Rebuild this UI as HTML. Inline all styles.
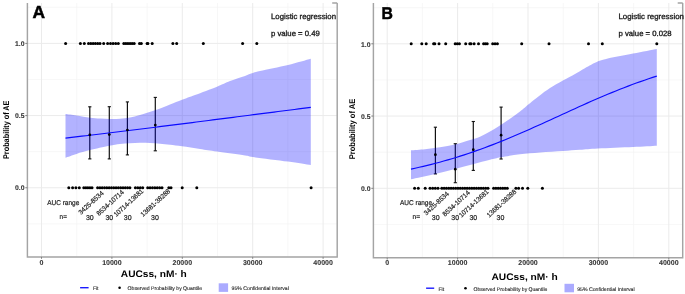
<!DOCTYPE html>
<html><head><meta charset="utf-8"><style>
html,body{margin:0;padding:0;background:#fff;width:685px;height:294px;overflow:hidden;}
svg{display:block;will-change:transform;text-rendering:geometricPrecision;font-family:"Liberation Sans", sans-serif;}
</style></head><body><svg width="685" height="294" viewBox="0 0 685 294" font-family='"Liberation Sans", sans-serif'><rect width="685" height="294" fill="#fff"/><line x1="76.7" y1="3" x2="76.7" y2="256.9" stroke="#f4f4f4" stroke-width="0.7"/><line x1="147.1" y1="3" x2="147.1" y2="256.9" stroke="#f4f4f4" stroke-width="0.7"/><line x1="217.5" y1="3" x2="217.5" y2="256.9" stroke="#f4f4f4" stroke-width="0.7"/><line x1="287.9" y1="3" x2="287.9" y2="256.9" stroke="#f4f4f4" stroke-width="0.7"/><line x1="27.4" y1="223.84" x2="337.2" y2="223.84" stroke="#f4f4f4" stroke-width="0.7"/><line x1="27.4" y1="151.66" x2="337.2" y2="151.66" stroke="#f4f4f4" stroke-width="0.7"/><line x1="27.4" y1="79.49" x2="337.2" y2="79.49" stroke="#f4f4f4" stroke-width="0.7"/><line x1="27.4" y1="7.31" x2="337.2" y2="7.31" stroke="#f4f4f4" stroke-width="0.7"/><line x1="41.5" y1="3" x2="41.5" y2="256.9" stroke="#ebebeb" stroke-width="1"/><line x1="111.9" y1="3" x2="111.9" y2="256.9" stroke="#ebebeb" stroke-width="1"/><line x1="182.3" y1="3" x2="182.3" y2="256.9" stroke="#ebebeb" stroke-width="1"/><line x1="252.7" y1="3" x2="252.7" y2="256.9" stroke="#ebebeb" stroke-width="1"/><line x1="323.1" y1="3" x2="323.1" y2="256.9" stroke="#ebebeb" stroke-width="1"/><line x1="27.4" y1="187.75" x2="337.2" y2="187.75" stroke="#ebebeb" stroke-width="1"/><line x1="27.4" y1="115.58" x2="337.2" y2="115.58" stroke="#ebebeb" stroke-width="1"/><line x1="27.4" y1="43.4" x2="337.2" y2="43.4" stroke="#ebebeb" stroke-width="1"/><path d="M27.4,3 L27.4,256.9 L337.2,256.9 L337.2,3 M332.2,3 L337.2,3" fill="none" stroke="#a4a4a4" stroke-width="1.45"/><line x1="41.5" y1="256.9" x2="41.5" y2="258.8" stroke="#808080" stroke-width="1"/><line x1="111.9" y1="256.9" x2="111.9" y2="258.8" stroke="#808080" stroke-width="1"/><line x1="182.3" y1="256.9" x2="182.3" y2="258.8" stroke="#808080" stroke-width="1"/><line x1="252.7" y1="256.9" x2="252.7" y2="258.8" stroke="#808080" stroke-width="1"/><line x1="323.1" y1="256.9" x2="323.1" y2="258.8" stroke="#808080" stroke-width="1"/><line x1="25.3" y1="187.75" x2="27.4" y2="187.75" stroke="#808080" stroke-width="1"/><line x1="25.3" y1="115.58" x2="27.4" y2="115.58" stroke="#808080" stroke-width="1"/><line x1="25.3" y1="43.4" x2="27.4" y2="43.4" stroke="#808080" stroke-width="1"/><text x="41.5" y="265.3" font-size="7" font-weight="bold" fill="#383838" text-anchor="middle" stroke="#383838" stroke-width="0.12">0</text><text x="111.9" y="265.3" font-size="7" font-weight="bold" fill="#383838" text-anchor="middle" stroke="#383838" stroke-width="0.12">10000</text><text x="182.3" y="265.3" font-size="7" font-weight="bold" fill="#383838" text-anchor="middle" stroke="#383838" stroke-width="0.12">20000</text><text x="252.7" y="265.3" font-size="7" font-weight="bold" fill="#383838" text-anchor="middle" stroke="#383838" stroke-width="0.12">30000</text><text x="323.1" y="265.3" font-size="7" font-weight="bold" fill="#383838" text-anchor="middle" stroke="#383838" stroke-width="0.12">40000</text><text x="24.5" y="190.35" font-size="6.8" font-weight="bold" fill="#383838" text-anchor="end" stroke="#383838" stroke-width="0.12">0.0</text><text x="24.5" y="118.17" font-size="6.8" font-weight="bold" fill="#383838" text-anchor="end" stroke="#383838" stroke-width="0.12">0.5</text><text x="24.5" y="46" font-size="6.8" font-weight="bold" fill="#383838" text-anchor="end" stroke="#383838" stroke-width="0.12">1.0</text><circle cx="65.6" cy="43.4" r="1.5" fill="#000"/><circle cx="80.4" cy="43.4" r="1.5" fill="#000"/><circle cx="84.3" cy="43.4" r="1.5" fill="#000"/><circle cx="88.5" cy="43.4" r="1.5" fill="#000"/><circle cx="90.8" cy="43.4" r="1.5" fill="#000"/><circle cx="93.1" cy="43.4" r="1.5" fill="#000"/><circle cx="95.4" cy="43.4" r="1.5" fill="#000"/><circle cx="97.7" cy="43.4" r="1.5" fill="#000"/><circle cx="100" cy="43.4" r="1.5" fill="#000"/><circle cx="103.7" cy="43.4" r="1.5" fill="#000"/><circle cx="107.6" cy="43.4" r="1.5" fill="#000"/><circle cx="110.5" cy="43.4" r="1.5" fill="#000"/><circle cx="113.1" cy="43.4" r="1.5" fill="#000"/><circle cx="115.7" cy="43.4" r="1.5" fill="#000"/><circle cx="118.3" cy="43.4" r="1.5" fill="#000"/><circle cx="123.8" cy="43.4" r="1.5" fill="#000"/><circle cx="125.88" cy="43.4" r="1.5" fill="#000"/><circle cx="127.96" cy="43.4" r="1.5" fill="#000"/><circle cx="130.04" cy="43.4" r="1.5" fill="#000"/><circle cx="132.12" cy="43.4" r="1.5" fill="#000"/><circle cx="134.2" cy="43.4" r="1.5" fill="#000"/><circle cx="139.5" cy="43.4" r="1.5" fill="#000"/><circle cx="141.3" cy="43.4" r="1.5" fill="#000"/><circle cx="147.1" cy="43.4" r="1.5" fill="#000"/><circle cx="147.9" cy="43.4" r="1.5" fill="#000"/><circle cx="152.2" cy="43.4" r="1.5" fill="#000"/><circle cx="172.9" cy="43.4" r="1.5" fill="#000"/><circle cx="176.7" cy="43.4" r="1.5" fill="#000"/><circle cx="203.3" cy="43.4" r="1.5" fill="#000"/><circle cx="242.6" cy="43.4" r="1.5" fill="#000"/><circle cx="256.8" cy="43.4" r="1.5" fill="#000"/><circle cx="68.8" cy="187.75" r="1.5" fill="#000"/><circle cx="72.6" cy="187.75" r="1.5" fill="#000"/><circle cx="75.9" cy="187.75" r="1.5" fill="#000"/><circle cx="79.3" cy="187.75" r="1.5" fill="#000"/><circle cx="83.8" cy="187.75" r="1.5" fill="#000"/><circle cx="85.85" cy="187.75" r="1.5" fill="#000"/><circle cx="87.9" cy="187.75" r="1.5" fill="#000"/><circle cx="89.95" cy="187.75" r="1.5" fill="#000"/><circle cx="92" cy="187.75" r="1.5" fill="#000"/><circle cx="97.6" cy="187.75" r="1.5" fill="#000"/><circle cx="99.91" cy="187.75" r="1.5" fill="#000"/><circle cx="102.21" cy="187.75" r="1.5" fill="#000"/><circle cx="104.52" cy="187.75" r="1.5" fill="#000"/><circle cx="106.83" cy="187.75" r="1.5" fill="#000"/><circle cx="109.14" cy="187.75" r="1.5" fill="#000"/><circle cx="111.44" cy="187.75" r="1.5" fill="#000"/><circle cx="113.75" cy="187.75" r="1.5" fill="#000"/><circle cx="116.06" cy="187.75" r="1.5" fill="#000"/><circle cx="118.36" cy="187.75" r="1.5" fill="#000"/><circle cx="120.67" cy="187.75" r="1.5" fill="#000"/><circle cx="122.98" cy="187.75" r="1.5" fill="#000"/><circle cx="125.29" cy="187.75" r="1.5" fill="#000"/><circle cx="127.59" cy="187.75" r="1.5" fill="#000"/><circle cx="129.9" cy="187.75" r="1.5" fill="#000"/><circle cx="135.4" cy="187.75" r="1.5" fill="#000"/><circle cx="137.83" cy="187.75" r="1.5" fill="#000"/><circle cx="140.27" cy="187.75" r="1.5" fill="#000"/><circle cx="142.7" cy="187.75" r="1.5" fill="#000"/><circle cx="147.7" cy="187.75" r="1.5" fill="#000"/><circle cx="150.08" cy="187.75" r="1.5" fill="#000"/><circle cx="152.47" cy="187.75" r="1.5" fill="#000"/><circle cx="154.85" cy="187.75" r="1.5" fill="#000"/><circle cx="157.23" cy="187.75" r="1.5" fill="#000"/><circle cx="159.62" cy="187.75" r="1.5" fill="#000"/><circle cx="162" cy="187.75" r="1.5" fill="#000"/><circle cx="168.8" cy="187.75" r="1.5" fill="#000"/><circle cx="171" cy="187.75" r="1.5" fill="#000"/><circle cx="182.2" cy="187.75" r="1.5" fill="#000"/><circle cx="196.8" cy="187.75" r="1.5" fill="#000"/><circle cx="311.1" cy="187.75" r="1.5" fill="#000"/><line x1="89.8" y1="106.8" x2="89.8" y2="158.9" stroke="#111" stroke-width="1.2"/><line x1="88.2" y1="106.8" x2="91.4" y2="106.8" stroke="#111" stroke-width="1.1"/><line x1="88.2" y1="158.9" x2="91.4" y2="158.9" stroke="#111" stroke-width="1.1"/><line x1="109.3" y1="106.7" x2="109.3" y2="158.9" stroke="#111" stroke-width="1.2"/><line x1="107.7" y1="106.7" x2="110.9" y2="106.7" stroke="#111" stroke-width="1.1"/><line x1="107.7" y1="158.9" x2="110.9" y2="158.9" stroke="#111" stroke-width="1.1"/><line x1="127.4" y1="101.9" x2="127.4" y2="154.9" stroke="#111" stroke-width="1.2"/><line x1="125.8" y1="101.9" x2="129" y2="101.9" stroke="#111" stroke-width="1.1"/><line x1="125.8" y1="154.9" x2="129" y2="154.9" stroke="#111" stroke-width="1.1"/><line x1="155.3" y1="97.4" x2="155.3" y2="150.8" stroke="#111" stroke-width="1.2"/><line x1="153.7" y1="97.4" x2="156.9" y2="97.4" stroke="#111" stroke-width="1.1"/><line x1="153.7" y1="150.8" x2="156.9" y2="150.8" stroke="#111" stroke-width="1.1"/><path d="M65.5,113.9 C67.33,114.15 72.42,114.77 76.5,115.4 C80.58,116.03 86.08,117.17 90,117.7 C93.92,118.23 96.67,118.4 100,118.6 C103.33,118.8 106.67,118.88 110,118.9 C113.33,118.92 116.67,118.95 120,118.7 C123.33,118.45 126.67,118.03 130,117.4 C133.33,116.77 135.83,116.08 140,114.9 C144.17,113.72 150,112.03 155,110.3 C160,108.57 165.5,106.25 170,104.5 C174.5,102.75 177.83,101.38 182,99.8 C186.17,98.22 189.17,97.18 195,95 C200.83,92.82 211.17,89.03 217,86.7 C222.83,84.37 225.33,82.8 230,81 C234.67,79.2 241.33,77.18 245,75.9 C248.67,74.62 249.5,74.1 252,73.3 C254.5,72.5 254,72.48 260,71.1 C266,69.72 279.53,67.05 288,65 C296.47,62.95 307,59.83 310.8,58.8 L310.8,165.1 C307,164.52 297.63,162.95 288,161.6 C278.37,160.25 260.17,158.02 253,157 C245.83,155.98 251,156.4 245,155.5 C239,154.6 224.5,152.68 217,151.6 C209.5,150.52 205.83,149.88 200,149 C194.17,148.12 187,147 182,146.3 C177,145.6 173.67,145.23 170,144.8 C166.33,144.37 163.33,144 160,143.7 C156.67,143.4 153.33,143.15 150,143 C146.67,142.85 143.33,142.77 140,142.8 C136.67,142.83 133.33,143.02 130,143.2 C126.67,143.38 123.5,143.48 120,143.9 C116.5,144.32 114,144.67 109,145.7 C104,146.73 95.42,148.73 90,150.1 C84.58,151.47 80.58,152.63 76.5,153.9 C72.42,155.17 67.33,157.07 65.5,157.7 Z" fill="#0000ff" fill-opacity="0.3"/><polyline points="65.5,138.1 69.59,137.62 73.68,137.14 77.77,136.66 81.85,136.18 85.94,135.7 90.03,135.21 94.12,134.72 98.21,134.23 102.3,133.74 106.38,133.25 110.47,132.75 114.56,132.26 118.65,131.76 122.74,131.26 126.83,130.76 130.91,130.25 135,129.75 139.09,129.24 143.18,128.74 147.27,128.23 151.36,127.72 155.44,127.21 159.53,126.69 163.62,126.18 167.71,125.66 171.8,125.15 175.88,124.63 179.97,124.11 184.06,123.6 188.15,123.08 192.24,122.56 196.33,122.03 200.42,121.51 204.5,120.99 208.59,120.47 212.68,119.94 216.77,119.42 220.86,118.9 224.95,118.37 229.03,117.85 233.12,117.32 237.21,116.79 241.3,116.27 245.39,115.74 249.47,115.22 253.56,114.69 257.65,114.17 261.74,113.64 265.83,113.12 269.92,112.59 274,112.07 278.09,111.54 282.18,111.02 286.27,110.49 290.36,109.97 294.45,109.45 298.53,108.93 302.62,108.41 306.71,107.89 310.8,107.37" fill="none" stroke="#0a0aff" stroke-width="1.15"/><circle cx="89.8" cy="134.8" r="1.35" fill="#000"/><circle cx="109.3" cy="134.6" r="1.35" fill="#000"/><circle cx="127.4" cy="130" r="1.35" fill="#000"/><circle cx="155.3" cy="125" r="1.35" fill="#000"/><text x="32.4" y="18.3" font-size="17.4" font-weight="bold" fill="#000" text-anchor="start" stroke="#000" stroke-width="0.5">A</text><text x="271" y="19" font-size="7.7" font-weight="normal" fill="#1a1a1a" text-anchor="start" textLength="65" lengthAdjust="spacingAndGlyphs" stroke="#1a1a1a" stroke-width="0.32">Logistic regression</text><text x="271" y="36.1" font-size="7.7" font-weight="normal" fill="#1a1a1a" text-anchor="start" textLength="48.8" lengthAdjust="spacingAndGlyphs" stroke="#1a1a1a" stroke-width="0.32">p value = 0.49</text><text x="47.2" y="204.9" font-size="7" font-weight="normal" fill="#262626" text-anchor="start" textLength="32.1" lengthAdjust="spacingAndGlyphs" stroke="#262626" stroke-width="0.22">AUC range</text><text x="59.6" y="219" font-size="7" font-weight="normal" fill="#262626" text-anchor="start" textLength="7.3" lengthAdjust="spacingAndGlyphs" stroke="#262626" stroke-width="0.22">n=</text><text x="89.85" y="219.7" font-size="7" font-weight="normal" fill="#262626" text-anchor="middle" stroke="#262626" stroke-width="0.22">30</text><text x="109.3" y="219.7" font-size="7" font-weight="normal" fill="#262626" text-anchor="middle" stroke="#262626" stroke-width="0.22">30</text><text x="127.7" y="219.7" font-size="7" font-weight="normal" fill="#262626" text-anchor="middle" stroke="#262626" stroke-width="0.22">30</text><text x="155" y="219.7" font-size="7" font-weight="normal" fill="#262626" text-anchor="middle" stroke="#262626" stroke-width="0.22">30</text><text x="0" y="0" font-size="6.7" fill="#262626" text-anchor="middle" textLength="31.4" lengthAdjust="spacingAndGlyphs" stroke="#262626" stroke-width="0.2" transform="translate(90.8,202.6) rotate(-42.5) translate(0,2.5)">3425-8534</text><text x="0" y="0" font-size="6.7" fill="#262626" text-anchor="middle" textLength="34.4" lengthAdjust="spacingAndGlyphs" stroke="#262626" stroke-width="0.2" transform="translate(110,202.6) rotate(-42.5) translate(0,2.5)">8534-10714</text><text x="0" y="0" font-size="6.7" fill="#262626" text-anchor="middle" textLength="37.5" lengthAdjust="spacingAndGlyphs" stroke="#262626" stroke-width="0.2" transform="translate(128.4,202.6) rotate(-42.5) translate(0,2.5)">10714-13681</text><text x="0" y="0" font-size="6.7" fill="#262626" text-anchor="middle" textLength="37.5" lengthAdjust="spacingAndGlyphs" stroke="#262626" stroke-width="0.2" transform="translate(155.2,202.6) rotate(-42.5) translate(0,2.5)">13681-38288</text><text x="0" y="0" font-size="8.3" font-weight="bold" fill="#000" text-anchor="middle" textLength="58.5" lengthAdjust="spacingAndGlyphs" transform="translate(8.6,129.75) rotate(-90)">Probability of AE</text><text x="120.8" y="276.5" font-size="9.5" font-weight="bold" fill="#000" text-anchor="start" textLength="66" lengthAdjust="spacingAndGlyphs">AUCss, nM· h</text><line x1="80.1" y1="287.7" x2="88.6" y2="287.7" stroke="#1a1aff" stroke-width="1.4"/><text x="93" y="290.1" font-size="5.2" font-weight="normal" fill="#2a2a2a" text-anchor="start" textLength="5.5" lengthAdjust="spacingAndGlyphs" stroke="#2a2a2a" stroke-width="0.12">Fit</text><circle cx="119.6" cy="287.7" r="1.3" fill="#000"/><text x="127.6" y="290.1" font-size="5.2" font-weight="normal" fill="#2a2a2a" text-anchor="start" textLength="74.5" lengthAdjust="spacingAndGlyphs" stroke="#2a2a2a" stroke-width="0.12">Observed Probability by Quantile</text><rect x="218.7" y="283.3" width="9.4" height="8.6" fill="#0000ff" fill-opacity="0.33"/><text x="231.6" y="290.1" font-size="5.2" font-weight="normal" fill="#2a2a2a" text-anchor="start" textLength="57.2" lengthAdjust="spacingAndGlyphs" stroke="#2a2a2a" stroke-width="0.12">95% Confidential Interval</text><line x1="422.4" y1="3" x2="422.4" y2="257.7" stroke="#f4f4f4" stroke-width="0.7"/><line x1="492.8" y1="3" x2="492.8" y2="257.7" stroke="#f4f4f4" stroke-width="0.7"/><line x1="563.2" y1="3" x2="563.2" y2="257.7" stroke="#f4f4f4" stroke-width="0.7"/><line x1="633.6" y1="3" x2="633.6" y2="257.7" stroke="#f4f4f4" stroke-width="0.7"/><line x1="373.4" y1="224.43" x2="682.7" y2="224.43" stroke="#f4f4f4" stroke-width="0.7"/><line x1="373.4" y1="152.18" x2="682.7" y2="152.18" stroke="#f4f4f4" stroke-width="0.7"/><line x1="373.4" y1="79.93" x2="682.7" y2="79.93" stroke="#f4f4f4" stroke-width="0.7"/><line x1="373.4" y1="7.68" x2="682.7" y2="7.68" stroke="#f4f4f4" stroke-width="0.7"/><line x1="387.2" y1="3" x2="387.2" y2="257.7" stroke="#ebebeb" stroke-width="1"/><line x1="457.6" y1="3" x2="457.6" y2="257.7" stroke="#ebebeb" stroke-width="1"/><line x1="528" y1="3" x2="528" y2="257.7" stroke="#ebebeb" stroke-width="1"/><line x1="598.4" y1="3" x2="598.4" y2="257.7" stroke="#ebebeb" stroke-width="1"/><line x1="668.8" y1="3" x2="668.8" y2="257.7" stroke="#ebebeb" stroke-width="1"/><line x1="373.4" y1="188.3" x2="682.7" y2="188.3" stroke="#ebebeb" stroke-width="1"/><line x1="373.4" y1="116.05" x2="682.7" y2="116.05" stroke="#ebebeb" stroke-width="1"/><line x1="373.4" y1="43.8" x2="682.7" y2="43.8" stroke="#ebebeb" stroke-width="1"/><path d="M373.4,3 L373.4,257.7 L682.7,257.7 L682.7,3 M677.7,3 L682.7,3" fill="none" stroke="#a4a4a4" stroke-width="1.45"/><line x1="387.2" y1="257.7" x2="387.2" y2="259.6" stroke="#808080" stroke-width="1"/><line x1="457.6" y1="257.7" x2="457.6" y2="259.6" stroke="#808080" stroke-width="1"/><line x1="528" y1="257.7" x2="528" y2="259.6" stroke="#808080" stroke-width="1"/><line x1="598.4" y1="257.7" x2="598.4" y2="259.6" stroke="#808080" stroke-width="1"/><line x1="668.8" y1="257.7" x2="668.8" y2="259.6" stroke="#808080" stroke-width="1"/><line x1="371.3" y1="188.3" x2="373.4" y2="188.3" stroke="#808080" stroke-width="1"/><line x1="371.3" y1="116.05" x2="373.4" y2="116.05" stroke="#808080" stroke-width="1"/><line x1="371.3" y1="43.8" x2="373.4" y2="43.8" stroke="#808080" stroke-width="1"/><text x="387.2" y="265.3" font-size="7" font-weight="bold" fill="#383838" text-anchor="middle" stroke="#383838" stroke-width="0.12">0</text><text x="457.6" y="265.3" font-size="7" font-weight="bold" fill="#383838" text-anchor="middle" stroke="#383838" stroke-width="0.12">10000</text><text x="528" y="265.3" font-size="7" font-weight="bold" fill="#383838" text-anchor="middle" stroke="#383838" stroke-width="0.12">20000</text><text x="598.4" y="265.3" font-size="7" font-weight="bold" fill="#383838" text-anchor="middle" stroke="#383838" stroke-width="0.12">30000</text><text x="668.8" y="265.3" font-size="7" font-weight="bold" fill="#383838" text-anchor="middle" stroke="#383838" stroke-width="0.12">40000</text><text x="370.5" y="191.05" font-size="6.8" font-weight="bold" fill="#383838" text-anchor="end" stroke="#383838" stroke-width="0.12">0.0</text><text x="370.5" y="118.8" font-size="6.8" font-weight="bold" fill="#383838" text-anchor="end" stroke="#383838" stroke-width="0.12">0.5</text><text x="370.5" y="46.55" font-size="6.8" font-weight="bold" fill="#383838" text-anchor="end" stroke="#383838" stroke-width="0.12">1.0</text><circle cx="411.2" cy="43.8" r="1.5" fill="#000"/><circle cx="421.8" cy="43.8" r="1.5" fill="#000"/><circle cx="426.2" cy="43.8" r="1.5" fill="#000"/><circle cx="433.6" cy="43.8" r="1.5" fill="#000"/><circle cx="434.8" cy="43.8" r="1.5" fill="#000"/><circle cx="439" cy="43.8" r="1.5" fill="#000"/><circle cx="445.7" cy="43.8" r="1.5" fill="#000"/><circle cx="455.2" cy="43.8" r="1.5" fill="#000"/><circle cx="457.3" cy="43.8" r="1.5" fill="#000"/><circle cx="459.4" cy="43.8" r="1.5" fill="#000"/><circle cx="465.7" cy="43.8" r="1.5" fill="#000"/><circle cx="469.8" cy="43.8" r="1.5" fill="#000"/><circle cx="471" cy="43.8" r="1.5" fill="#000"/><circle cx="474.1" cy="43.8" r="1.5" fill="#000"/><circle cx="478.5" cy="43.8" r="1.5" fill="#000"/><circle cx="483.6" cy="43.8" r="1.5" fill="#000"/><circle cx="485.4" cy="43.8" r="1.5" fill="#000"/><circle cx="487.2" cy="43.8" r="1.5" fill="#000"/><circle cx="492.7" cy="43.8" r="1.5" fill="#000"/><circle cx="495.05" cy="43.8" r="1.5" fill="#000"/><circle cx="497.4" cy="43.8" r="1.5" fill="#000"/><circle cx="521.7" cy="43.8" r="1.5" fill="#000"/><circle cx="549" cy="43.8" r="1.5" fill="#000"/><circle cx="588.5" cy="43.8" r="1.5" fill="#000"/><circle cx="602.3" cy="43.8" r="1.5" fill="#000"/><circle cx="656.8" cy="43.8" r="1.5" fill="#000"/><circle cx="414.6" cy="188.3" r="1.5" fill="#000"/><circle cx="418.3" cy="188.3" r="1.5" fill="#000"/><circle cx="425.2" cy="188.3" r="1.5" fill="#000"/><circle cx="430" cy="188.3" r="1.5" fill="#000"/><circle cx="432.67" cy="188.3" r="1.5" fill="#000"/><circle cx="435.33" cy="188.3" r="1.5" fill="#000"/><circle cx="438" cy="188.3" r="1.5" fill="#000"/><circle cx="441.8" cy="188.3" r="1.5" fill="#000"/><circle cx="444.11" cy="188.3" r="1.5" fill="#000"/><circle cx="446.42" cy="188.3" r="1.5" fill="#000"/><circle cx="448.73" cy="188.3" r="1.5" fill="#000"/><circle cx="451.04" cy="188.3" r="1.5" fill="#000"/><circle cx="453.35" cy="188.3" r="1.5" fill="#000"/><circle cx="455.66" cy="188.3" r="1.5" fill="#000"/><circle cx="457.97" cy="188.3" r="1.5" fill="#000"/><circle cx="460.28" cy="188.3" r="1.5" fill="#000"/><circle cx="462.59" cy="188.3" r="1.5" fill="#000"/><circle cx="464.9" cy="188.3" r="1.5" fill="#000"/><circle cx="467.21" cy="188.3" r="1.5" fill="#000"/><circle cx="469.52" cy="188.3" r="1.5" fill="#000"/><circle cx="471.83" cy="188.3" r="1.5" fill="#000"/><circle cx="474.14" cy="188.3" r="1.5" fill="#000"/><circle cx="476.45" cy="188.3" r="1.5" fill="#000"/><circle cx="478.76" cy="188.3" r="1.5" fill="#000"/><circle cx="481.07" cy="188.3" r="1.5" fill="#000"/><circle cx="483.38" cy="188.3" r="1.5" fill="#000"/><circle cx="485.69" cy="188.3" r="1.5" fill="#000"/><circle cx="488" cy="188.3" r="1.5" fill="#000"/><circle cx="493.6" cy="188.3" r="1.5" fill="#000"/><circle cx="495.88" cy="188.3" r="1.5" fill="#000"/><circle cx="498.17" cy="188.3" r="1.5" fill="#000"/><circle cx="500.45" cy="188.3" r="1.5" fill="#000"/><circle cx="502.73" cy="188.3" r="1.5" fill="#000"/><circle cx="505.02" cy="188.3" r="1.5" fill="#000"/><circle cx="507.3" cy="188.3" r="1.5" fill="#000"/><circle cx="515.9" cy="188.3" r="1.5" fill="#000"/><circle cx="518.6" cy="188.3" r="1.5" fill="#000"/><circle cx="522.5" cy="188.3" r="1.5" fill="#000"/><circle cx="527.8" cy="188.3" r="1.5" fill="#000"/><circle cx="542.4" cy="188.3" r="1.5" fill="#000"/><line x1="435.4" y1="127.2" x2="435.4" y2="173.9" stroke="#111" stroke-width="1.2"/><line x1="433.8" y1="127.2" x2="437" y2="127.2" stroke="#111" stroke-width="1.1"/><line x1="433.8" y1="173.9" x2="437" y2="173.9" stroke="#111" stroke-width="1.1"/><line x1="455.3" y1="143.7" x2="455.3" y2="182.7" stroke="#111" stroke-width="1.2"/><line x1="453.7" y1="143.7" x2="456.9" y2="143.7" stroke="#111" stroke-width="1.1"/><line x1="453.7" y1="182.7" x2="456.9" y2="182.7" stroke="#111" stroke-width="1.1"/><line x1="473.3" y1="121.5" x2="473.3" y2="170.4" stroke="#111" stroke-width="1.2"/><line x1="471.7" y1="121.5" x2="474.9" y2="121.5" stroke="#111" stroke-width="1.1"/><line x1="471.7" y1="170.4" x2="474.9" y2="170.4" stroke="#111" stroke-width="1.1"/><line x1="501.1" y1="107.1" x2="501.1" y2="159" stroke="#111" stroke-width="1.2"/><line x1="499.5" y1="107.1" x2="502.7" y2="107.1" stroke="#111" stroke-width="1.1"/><line x1="499.5" y1="159" x2="502.7" y2="159" stroke="#111" stroke-width="1.1"/><path d="M411,150.3 C413.33,150.12 420.17,149.72 425,149.2 C429.83,148.68 435,147.98 440,147.2 C445,146.42 450,145.68 455,144.5 C460,143.32 465.83,141.4 470,140.1 C474.17,138.8 476.67,138.12 480,136.7 C483.33,135.28 486.5,133.58 490,131.6 C493.5,129.62 497.67,126.93 501,124.8 C504.33,122.67 506.83,121.02 510,118.8 C513.17,116.58 516.67,114.1 520,111.5 C523.33,108.9 525,107.1 530,103.2 C535,99.3 542.5,92.97 550,88.1 C557.5,83.23 568.67,77.6 575,74 C581.33,70.4 583.33,68.87 588,66.5 C592.67,64.13 595.5,61.95 603,59.8 C610.5,57.65 624.03,55.42 633,53.6 C641.97,51.78 652.83,49.68 656.8,48.9 L656.8,145.7 C652.83,145.92 642.8,146.53 633,147 C623.2,147.47 606.83,148.03 598,148.5 C589.17,148.97 585.83,149.38 580,149.8 C574.17,150.22 569.67,150.57 563,151 C556.33,151.43 547.17,151.85 540,152.4 C532.83,152.95 526.5,153.48 520,154.3 C513.5,155.12 506,156.38 501,157.3 C496,158.22 494.67,158.65 490,159.8 C485.33,160.95 478.83,162.67 473,164.2 C467.17,165.73 461.33,167.37 455,169 C448.67,170.63 442.33,172.28 435,174 C427.67,175.72 415,178.42 411,179.3 Z" fill="#0000ff" fill-opacity="0.3"/><polyline points="411,169.1 415.1,168.22 419.19,167.3 423.29,166.35 427.39,165.37 431.48,164.35 435.58,163.29 439.68,162.19 443.77,161.06 447.87,159.89 451.97,158.69 456.06,157.44 460.16,156.16 464.26,154.84 468.35,153.49 472.45,152.09 476.55,150.66 480.64,149.2 484.74,147.7 488.84,146.16 492.93,144.59 497.03,142.99 501.13,141.35 505.22,139.69 509.32,138 513.42,136.28 517.51,134.53 521.61,132.77 525.71,130.98 529.8,129.17 533.9,127.34 538,125.5 542.09,123.65 546.19,121.78 550.29,119.91 554.38,118.04 558.48,116.16 562.58,114.28 566.67,112.4 570.77,110.53 574.87,108.67 578.96,106.81 583.06,104.97 587.16,103.14 591.25,101.33 595.35,99.54 599.45,97.77 603.54,96.02 607.64,94.3 611.74,92.6 615.83,90.94 619.93,89.3 624.03,87.69 628.12,86.12 632.22,84.58 636.32,83.07 640.41,81.6 644.51,80.17 648.61,78.77 652.7,77.41 656.8,76.09" fill="none" stroke="#0a0aff" stroke-width="1.15"/><circle cx="435.4" cy="154.7" r="1.35" fill="#000"/><circle cx="455.3" cy="169.2" r="1.35" fill="#000"/><circle cx="473.3" cy="149.7" r="1.35" fill="#000"/><circle cx="501.1" cy="135.2" r="1.35" fill="#000"/><text x="381.4" y="18.5" font-size="17" font-weight="bold" fill="#000" text-anchor="start" textLength="11.4" lengthAdjust="spacingAndGlyphs" stroke="#000" stroke-width="0.5">B</text><text x="618.4" y="19" font-size="7.7" font-weight="normal" fill="#1a1a1a" text-anchor="start" textLength="65.5" lengthAdjust="spacingAndGlyphs" stroke="#1a1a1a" stroke-width="0.32">Logistic regression</text><text x="618.5" y="36.1" font-size="7.7" font-weight="normal" fill="#1a1a1a" text-anchor="start" textLength="53.1" lengthAdjust="spacingAndGlyphs" stroke="#1a1a1a" stroke-width="0.32">p value = 0.028</text><text x="400" y="205.4" font-size="7" font-weight="normal" fill="#262626" text-anchor="start" textLength="32.1" lengthAdjust="spacingAndGlyphs" stroke="#262626" stroke-width="0.22">AUC range</text><text x="412.6" y="219.4" font-size="7" font-weight="normal" fill="#262626" text-anchor="start" textLength="7.6" lengthAdjust="spacingAndGlyphs" stroke="#262626" stroke-width="0.22">n=</text><text x="435.7" y="219.8" font-size="7" font-weight="normal" fill="#262626" text-anchor="middle" stroke="#262626" stroke-width="0.22">30</text><text x="455.2" y="219.8" font-size="7" font-weight="normal" fill="#262626" text-anchor="middle" stroke="#262626" stroke-width="0.22">30</text><text x="473.3" y="219.8" font-size="7" font-weight="normal" fill="#262626" text-anchor="middle" stroke="#262626" stroke-width="0.22">30</text><text x="500.5" y="219.8" font-size="7" font-weight="normal" fill="#262626" text-anchor="middle" stroke="#262626" stroke-width="0.22">30</text><text x="0" y="0" font-size="6.7" fill="#262626" text-anchor="middle" textLength="31.4" lengthAdjust="spacingAndGlyphs" stroke="#262626" stroke-width="0.2" transform="translate(436.2,203.2) rotate(-42.5) translate(0,2.5)">3425-8534</text><text x="0" y="0" font-size="6.7" fill="#262626" text-anchor="middle" textLength="34.4" lengthAdjust="spacingAndGlyphs" stroke="#262626" stroke-width="0.2" transform="translate(456,203.2) rotate(-42.5) translate(0,2.5)">8534-10714</text><text x="0" y="0" font-size="6.7" fill="#262626" text-anchor="middle" textLength="37.5" lengthAdjust="spacingAndGlyphs" stroke="#262626" stroke-width="0.2" transform="translate(473.6,203.2) rotate(-42.5) translate(0,2.5)">10714-13681</text><text x="0" y="0" font-size="6.7" fill="#262626" text-anchor="middle" textLength="37.5" lengthAdjust="spacingAndGlyphs" stroke="#262626" stroke-width="0.2" transform="translate(501.3,203.2) rotate(-42.5) translate(0,2.5)">13681-38288</text><text x="0" y="0" font-size="8.3" font-weight="bold" fill="#000" text-anchor="middle" textLength="60.7" lengthAdjust="spacingAndGlyphs" transform="translate(354.9,129) rotate(-90)">Probability of AE</text><text x="491.5" y="279.6" font-size="9.5" font-weight="bold" fill="#000" text-anchor="start" textLength="66.2" lengthAdjust="spacingAndGlyphs">AUCss, nM· h</text><line x1="426.1" y1="288.2" x2="434.2" y2="288.2" stroke="#1a1aff" stroke-width="1.4"/><text x="438.4" y="290.5" font-size="5.2" font-weight="normal" fill="#2a2a2a" text-anchor="start" textLength="5.8" lengthAdjust="spacingAndGlyphs" stroke="#2a2a2a" stroke-width="0.12">Fit</text><circle cx="465.5" cy="288.2" r="1.3" fill="#000"/><text x="473.5" y="290.5" font-size="5.2" font-weight="normal" fill="#2a2a2a" text-anchor="start" textLength="73.9" lengthAdjust="spacingAndGlyphs" stroke="#2a2a2a" stroke-width="0.12">Observed Probability by Quantile</text><rect x="564.5" y="283.8" width="9.5" height="8.5" fill="#0000ff" fill-opacity="0.33"/><text x="577.2" y="290.5" font-size="5.2" font-weight="normal" fill="#2a2a2a" text-anchor="start" textLength="57.4" lengthAdjust="spacingAndGlyphs" stroke="#2a2a2a" stroke-width="0.12">95% Confidential Interval</text></svg></body></html>
